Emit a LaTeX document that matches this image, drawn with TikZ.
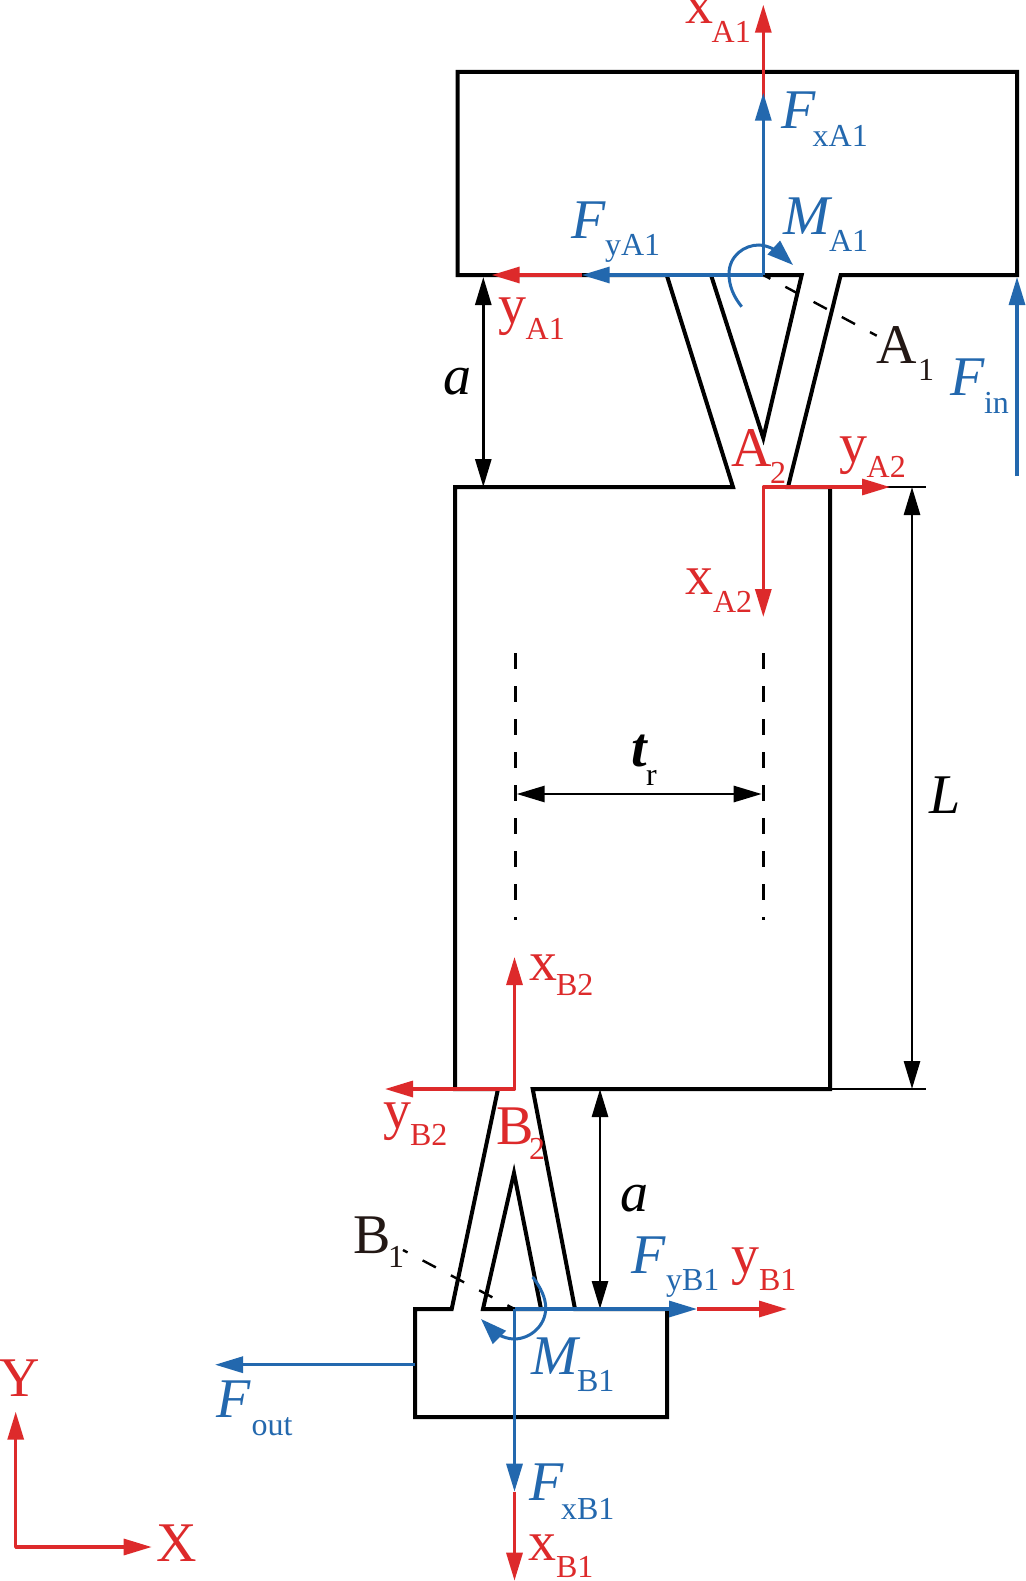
\documentclass[tikz,border=0pt]{standalone}
\usepackage{fontspec}
\setmainfont{Liberation Serif}
\usetikzlibrary{arrows.meta}
\definecolor{redc}{HTML}{DD2A2B}
\definecolor{bluec}{HTML}{2368AE}
\definecolor{inkc}{HTML}{231815}
\tikzset{
  mainlab/.style={anchor=base west,inner sep=0pt,outer sep=0pt,font=\fontsize{56}{56}\selectfont},
  itlab/.style={mainlab,font=\fontsize{56}{56}\selectfont\itshape},
  sublab/.style={anchor=base west,inner sep=0pt,outer sep=0pt,font=\fontsize{32}{32}\selectfont},
  outline/.style={draw=black,line width=4pt,line join=miter,miter limit=12},
  redarrow/.style={draw=redc,line width=3.2pt,-{Triangle[length=28pt,width=16pt]}},
  redcorner/.style={draw=redc,line width=3.2pt,line join=round,{Triangle[length=28pt,width=16pt]}-{Triangle[length=28pt,width=16pt]}},
  bluearrow/.style={draw=bluec,line width=3.2pt,-{Triangle[length=28pt,width=16pt]}},
  bluearc/.style={draw=bluec,line width=3pt,-{Triangle[length=26pt,width=18pt]}},
  dimarrow/.style={draw=black,line width=2.8pt,{Triangle[length=28pt,width=16pt]}-{Triangle[length=28pt,width=16pt]}},
  thinline/.style={draw=black,line width=2.4pt},
  refdash/.style={draw=black,line width=2.4pt,dash pattern=on 15pt off 17pt,dash phase=7pt},
  centerdash/.style={draw=black,line width=2.7pt,dash pattern=on 16pt off 17pt},
}
\begin{document}
\begin{tikzpicture}[x=1pt,y=-1pt]
\useasboundingbox (0,0) rectangle (1025,1581);
\fill[white] (0,0) rectangle (1025,1581);
% key points
\coordinate (A1) at (763.3,275);
\coordinate (A2) at (763.3,487);
\coordinate (B1) at (514.5,1309);
\coordinate (B2) at (514.5,1089);
\coordinate (O) at (15.7,1547);
\coordinate (xA1tip) at (763.3,4.7);
\coordinate (FxA1tip) at (763.3,92.7);
\coordinate (FyA1tip) at (581.7,275);
\coordinate (yA1tip) at (491.7,275);
\coordinate (xA2tip) at (763.3,617);
\coordinate (yA2tip) at (890,487);
\coordinate (xB2tip) at (514.5,957);
\coordinate (yB2tip) at (385,1089);
\coordinate (FyB1tip) at (697,1309);
\coordinate (yB1tip) at (787,1309);
\coordinate (FxB1tip) at (514.5,1491.7);
\coordinate (xB1tip) at (514.5,1580.7);
\coordinate (Ytip) at (15.7,1411.7);
\coordinate (Xtip) at (151.7,1547);
% body outline
\draw[outline] (457.5,72) -- (1017,72) -- (1017,275) -- (840.7,275) -- (788,487) -- (830,487)
  -- (830,1089) -- (532.7,1089) -- (575,1309) -- (667,1309) -- (667,1417) -- (415,1417)
  -- (415,1309) -- (451.7,1309) -- (498,1089) -- (455,1089) -- (455,487) -- (733,487)
  -- (666.7,275) -- (457.5,275) -- cycle;
\draw[outline] (711,275) -- (763.3,438) -- (801.7,275) -- (763.3,275);
\draw[outline] (483,1309) -- (514,1173) -- (541,1309) -- cycle;
% thin guides
\draw[thinline] (885,487) -- (926,487);
\draw[thinline] (830,1089) -- (926,1089);
\draw[centerdash] (515.7,653.3) -- (515.7,920);
\draw[centerdash] (763.3,653.3) -- (763.3,920);
% dimensions
\coordinate (a1t) at (483.3,277); \coordinate (a1b) at (483.3,487);
\coordinate (a2t) at (600,1089); \coordinate (a2b) at (600,1309);
\coordinate (Lt) at (912,487); \coordinate (Lb) at (912,1089);
\coordinate (trl) at (516.7,794); \coordinate (trr) at (761.7,794);
\draw[dimarrow] (a1t) -- (a1b);
\draw[dimarrow] (a2t) -- (a2b);
\draw[dimarrow] (Lt) -- (Lb);
\draw[dimarrow] (trl) -- (trr);
% leader lines
\node[mainlab,text=inkc] (lA1) at (876.7,363.7) {A};
\node[sublab,text=inkc] (lA1s) at (918,380.5) {1};
\node[mainlab,text=inkc] (lB1) at (353,1253) {B};
\node[sublab,text=inkc] (lB1s) at (388,1267.5) {1};
\coordinate (A1end) at (876.7,335.7);
\coordinate (B1end) at (403,1250);
\draw[refdash] (A1) -- (A1end);
\draw[refdash] (B1) -- (B1end);
% red axes
\draw[redarrow] (A1) -- (xA1tip);
\draw[redarrow] (FyA1tip) -- (yA1tip);
\draw[redcorner] (xA2tip) -- (A2) -- (yA2tip);
\draw[redcorner] (xB2tip) -- (B2) -- (yB2tip);
\draw[redarrow] (FyB1tip) -- (yB1tip);
\draw[redarrow] (FxB1tip) -- (xB1tip);
\draw[redcorner] (Ytip) -- (O) -- (Xtip);
% blue forces
\draw[bluearrow] (A1) -- (FxA1tip);
\draw[bluearrow] (A1) -- (FyA1tip);
\draw[bluearrow] (B1) -- (FyB1tip);
\draw[bluearrow] (B1) -- (FxB1tip);
\coordinate (Finbase) at (1017,476); \coordinate (Fintip) at (1017,277);
\draw[bluearrow] (Finbase) -- (Fintip);
\coordinate (Foutbase) at (415,1364.7); \coordinate (Fouttip) at (215,1364.7);
\draw[bluearrow] (Foutbase) -- (Fouttip);
% moments
\draw[bluearc] (741.7,306.7) .. controls (733,296) and (729,285) .. (729,274)
  .. controls (729,256) and (744,245) .. (759,245) .. controls (770,245) and (782,255) .. (793,265);
\draw[bluearc] (532.7,1277) .. controls (541,1288) and (545.7,1298) .. (545.7,1308)
  .. controls (545.7,1326) and (530,1339) .. (514,1339) .. controls (503,1339) and (492,1330) .. (481,1319);
% labels
\node[mainlab,text=redc] (lxA1) at (685,24) {x};
\node[sublab,text=redc] (lxA1s) at (711.7,42.7) {A1};
\node[itlab,text=bluec] (lFxA1) at (781.7,128.3) {F};
\node[sublab,text=bluec] (lFxA1s) at (812.7,146.7) {xA1};
\node[itlab,text=bluec] (lFyA1) at (571.7,238) {F};
\node[sublab,text=bluec] (lFyA1s) at (605,255.5) {yA1};
\node[itlab,text=bluec] (lMA1) at (783,234) {M};
\node[sublab,text=bluec] (lMA1s) at (829,251) {A1};
\node[mainlab,text=redc] (lyA1) at (498,323) {y};
\node[sublab,text=redc] (lyA1s) at (525.7,339.5) {A1};
\node[itlab] (la1) at (443,394.7) {a};
\node[itlab,text=bluec] (lFin) at (950.5,395) {F};
\node[sublab,text=bluec] (lFins) at (984,413.5) {in};
\node[mainlab,text=redc] (lA2) at (731.7,466) {A};
\node[sublab,text=redc] (lA2s) at (770,483) {2};
\node[mainlab,text=redc] (lyA2) at (839,462) {y};
\node[sublab,text=redc] (lyA2s) at (866.7,477.5) {A2};
\node[mainlab,text=redc] (lxA2) at (685,594.7) {x};
\node[sublab,text=redc] (lxA2s) at (713,612.5) {A2};
\node[itlab,font=\fontsize{56}{56}\selectfont\itshape\bfseries] (ltr) at (631.7,766.7) {t};
\node[sublab] (ltrs) at (646,785) {r};
\node[itlab] (lL) at (929,813) {L};
\node[mainlab,text=redc] (lxB2) at (529,980) {x};
\node[sublab,text=redc] (lxB2s) at (556,995.5) {B2};
\node[mainlab,text=redc] (lyB2) at (383,1128) {y};
\node[sublab,text=redc] (lyB2s) at (410,1145.5) {B2};
\node[mainlab,text=redc] (lB2) at (496.7,1144) {B};
\node[sublab,text=redc] (lB2s) at (529,1159.5) {2};
\node[itlab] (la2) at (620,1211) {a};
\node[itlab,text=bluec] (lFyB1) at (631.7,1273) {F};
\node[sublab,text=bluec] (lFyB1s) at (666,1290.5) {yB1};
\node[mainlab,text=redc] (lyB1) at (731.7,1273) {y};
\node[sublab,text=redc] (lyB1s) at (759,1290.5) {B1};
\node[itlab,text=bluec] (lMB1) at (531.7,1374) {M};
\node[sublab,text=bluec] (lMB1s) at (577,1391) {B1};
\node[itlab,text=bluec] (lFout) at (216.7,1417.3) {F};
\node[sublab,text=bluec] (lFouts) at (251.7,1435.7) {out};
\node[itlab,text=bluec] (lFxB1) at (529.3,1500.7) {F};
\node[sublab,text=bluec] (lFxB1s) at (561,1519) {xB1};
\node[mainlab,text=redc] (lxB1) at (528.3,1560.7) {x};
\node[sublab,text=redc] (lxB1s) at (556,1577.7) {B1};
\node[mainlab,text=redc] (lY) at (-1,1396) {Y};
\node[mainlab,text=redc] (lX) at (156.7,1561.7) {X};
\end{tikzpicture}
\end{document}
